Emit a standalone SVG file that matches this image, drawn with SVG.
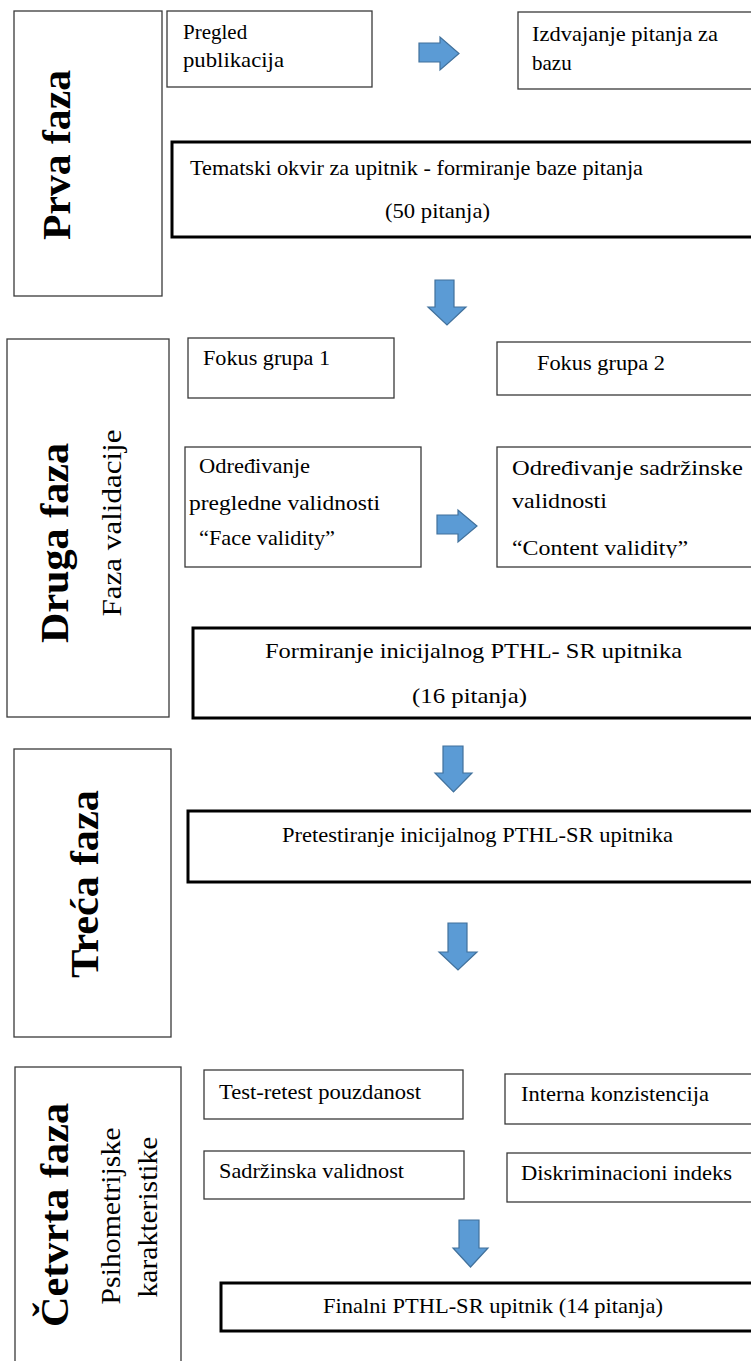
<svg xmlns="http://www.w3.org/2000/svg" width="751" height="1361" viewBox="0 0 751 1361">
<style>
.box{fill:#fff;stroke:#3a3a3a;stroke-width:1.3}
.thick{fill:#fff;stroke:#000;stroke-width:3}
.t{font-family:"Liberation Serif","Times New Roman",serif;font-size:21px;fill:#000}
.ph{font-family:"Liberation Serif","Times New Roman",serif;font-size:41px;font-weight:bold;fill:#000;text-anchor:middle}
.sub{font-family:"Liberation Serif","Times New Roman",serif;font-size:27px;fill:#000;text-anchor:middle}
.arr{fill:#5b9bd5;stroke:#41719c;stroke-width:1.2;stroke-linejoin:miter}
</style>
<defs>
<clipPath id="cv"><rect x="497" y="447" width="260" height="111"/></clipPath>
<clipPath id="p16"><rect x="193" y="628" width="570" height="80"/></clipPath>
</defs>

<g id="prva-faza">
<rect class="box" x="14" y="11" width="148" height="285"/>
<text class="ph" transform="translate(70,155) rotate(-90)" textLength="170" lengthAdjust="spacingAndGlyphs">Prva faza</text>
</g>
<g id="pregled">
<rect class="box" x="167" y="11" width="205" height="76"/>
<text class="t" x="183" y="39">Pregled</text>
<text class="t" x="183" y="67" textLength="101" lengthAdjust="spacingAndGlyphs">publikacija</text>
</g>
<g id="izdvajanje">
<rect class="box" x="518" y="12" width="245" height="77"/>
<text class="t" x="532" y="41" textLength="186" lengthAdjust="spacingAndGlyphs">Izdvajanje pitanja za</text>
<text class="t" x="532" y="70">bazu</text>
</g>
<g id="tematski">
<rect class="thick" x="172" y="142" width="590" height="95"/>
<text class="t" x="190" y="175" textLength="453" lengthAdjust="spacingAndGlyphs">Tematski okvir za upitnik - formiranje baze pitanja</text>
<text class="t" x="385" y="218" textLength="105" lengthAdjust="spacingAndGlyphs">(50 pitanja)</text>
</g>

<g id="druga-faza">
<rect class="box" x="7" y="339" width="162" height="378"/>
<text class="ph" transform="translate(68,543) rotate(-90)" textLength="200" lengthAdjust="spacingAndGlyphs">Druga faza</text>
<text class="sub" transform="translate(121,523) rotate(-90)" textLength="187" lengthAdjust="spacingAndGlyphs">Faza validacije</text>
</g>
<g id="fokus1">
<rect class="box" x="188" y="338" width="206" height="60"/>
<text class="t" x="203" y="365" textLength="127" lengthAdjust="spacingAndGlyphs">Fokus grupa 1</text>
</g>
<g id="fokus2">
<rect class="box" x="497" y="342" width="265" height="53"/>
<text class="t" x="537" y="370" textLength="128" lengthAdjust="spacingAndGlyphs">Fokus grupa 2</text>
</g>
<g id="face">
<rect class="box" x="185" y="447" width="236" height="120"/>
<text class="t" x="199" y="473" textLength="111" lengthAdjust="spacingAndGlyphs">Određivanje</text>
<text class="t" x="189" y="510" textLength="191" lengthAdjust="spacingAndGlyphs">pregledne validnosti</text>
<text class="t" x="199" y="545" textLength="136" lengthAdjust="spacingAndGlyphs">“Face validity”</text>
</g>
<g id="content">
<rect class="box" x="497" y="447" width="265" height="120"/>
<text class="t" x="512" y="475" textLength="231" lengthAdjust="spacingAndGlyphs">Određivanje sadržinske</text>
<text class="t" x="512" y="508" textLength="95" lengthAdjust="spacingAndGlyphs">validnosti</text>
<text class="t" x="512" y="555" clip-path="url(#cv)" textLength="176" lengthAdjust="spacingAndGlyphs">“Content validity”</text>
</g>
<g id="formiranje">
<rect class="thick" x="193" y="628" width="570" height="90"/>
<text class="t" x="265" y="658" textLength="417" lengthAdjust="spacingAndGlyphs">Formiranje inicijalnog PTHL- SR upitnika</text>
<text class="t" x="412" y="703" clip-path="url(#p16)" textLength="115" lengthAdjust="spacingAndGlyphs">(16 pitanja)</text>
</g>

<g id="treca-faza">
<rect class="box" x="14" y="749" width="157" height="288"/>
<text class="ph" transform="translate(98,884) rotate(-90)" textLength="188" lengthAdjust="spacingAndGlyphs">Treća faza</text>
</g>
<g id="pretestiranje">
<rect class="thick" x="188" y="811" width="575" height="71"/>
<text class="t" x="282" y="842" textLength="391" lengthAdjust="spacingAndGlyphs">Pretestiranje inicijalnog PTHL-SR upitnika</text>
</g>

<g id="cetvrta-faza">
<rect class="box" x="15" y="1067" width="166" height="310"/>
<text class="ph" transform="translate(68,1215) rotate(-90)" textLength="224" lengthAdjust="spacingAndGlyphs">Četvrta faza</text>
<text class="sub" transform="translate(120,1216) rotate(-90)" textLength="177" lengthAdjust="spacingAndGlyphs">Psihometrijske</text>
<text class="sub" transform="translate(157,1217) rotate(-90)" textLength="161" lengthAdjust="spacingAndGlyphs">karakteristike</text>
</g>
<g id="test-retest">
<rect class="box" x="204" y="1070" width="259" height="49"/>
<text class="t" x="219" y="1099" textLength="202" lengthAdjust="spacingAndGlyphs">Test-retest pouzdanost</text>
</g>
<g id="interna">
<rect class="box" x="505" y="1074" width="258" height="50"/>
<text class="t" x="521" y="1101" textLength="188" lengthAdjust="spacingAndGlyphs">Interna konzistencija</text>
</g>
<g id="sadrzinska">
<rect class="box" x="204" y="1151" width="260" height="48"/>
<text class="t" x="219" y="1178" textLength="185" lengthAdjust="spacingAndGlyphs">Sadržinska validnost</text>
</g>
<g id="diskriminacioni">
<rect class="box" x="507" y="1153" width="256" height="49"/>
<text class="t" x="521" y="1180" textLength="211" lengthAdjust="spacingAndGlyphs">Diskriminacioni indeks</text>
</g>
<g id="finalni">
<rect class="thick" x="221" y="1283" width="545" height="48"/>
<text class="t" x="323" y="1313" textLength="340" lengthAdjust="spacingAndGlyphs">Finalni PTHL-SR upitnik (14 pitanja)</text>
</g>

<g id="connectors">
<path class="arr" d="M419,43 H440 V37 L459,53.5 L440,70 V62 H419 Z"/>
<path class="arr" d="M437,515 H458 V510 L477,526 L458,542 V534 H437 Z"/>
<path class="arr" d="M435,280 H454 V307 H466 L447,325 L428,307 H435 Z"/>
<path class="arr" d="M443,746 H463 V773 H472 L453.5,792 L435,773 H443 Z"/>
<path class="arr" d="M448,923 H467 V952 H477 L458,970 L439,952 H448 Z"/>
<path class="arr" d="M459,1220 H479 V1248 H488 L470.5,1267 L453,1248 H459 Z"/>
</g>
</svg>
